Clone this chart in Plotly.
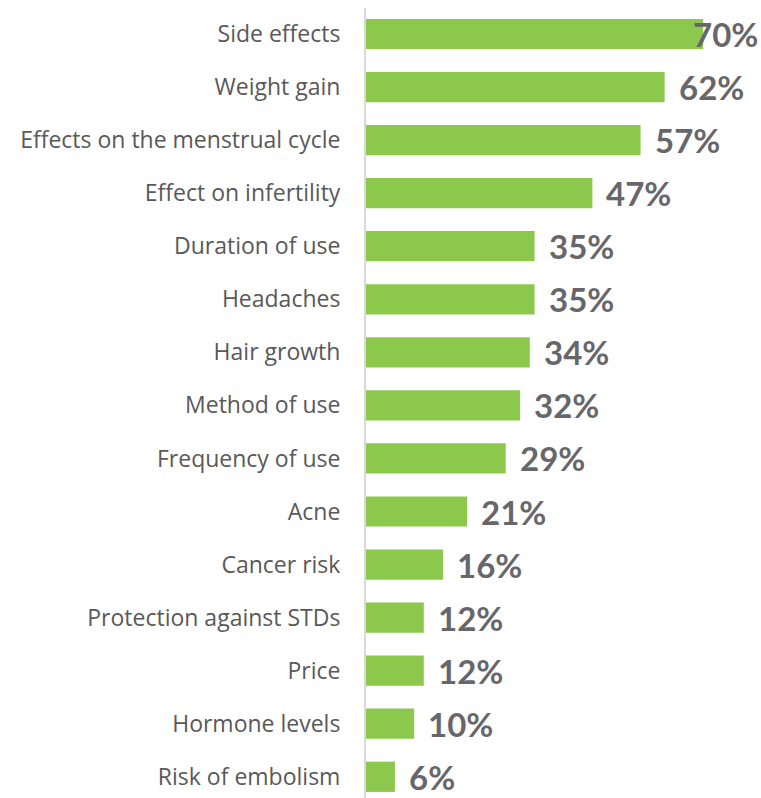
import plotly.graph_objects as go

# Concerns about contraception, share of respondents (%)
categories = [
    "Side effects",
    "Weight gain",
    "Effects on the menstrual cycle",
    "Effect on infertility",
    "Duration of use",
    "Headaches",
    "Hair growth",
    "Method of use",
    "Frequency of use",
    "Acne",
    "Cancer risk",
    "Protection against STDs",
    "Price",
    "Hormone levels",
    "Risk of embolism",
]
values = [70, 62, 57, 47, 35, 35, 34, 32, 29, 21, 16, 12, 12, 10, 6]

BAR_COLOR = "#8CC84B"
LABEL_COLOR = "#67676B"
TICK_COLOR = "#595959"
X_MAX = 82

fig = go.Figure(
    go.Bar(
        x=values,
        y=categories,
        orientation="h",
        marker=dict(color=BAR_COLOR, line=dict(width=0)),
        width=0.57,
        hoverinfo="skip",
    )
)

# Value labels just past the bar ends; the longest one is pulled back
# so it stays within the figure's right edge.
annotations = []
for cat, v in zip(categories, values):
    label = f"{v}%"
    ann = dict(
        x=v, y=cat, xref="x", yref="y", text=f"<b>{label}</b>",
        showarrow=False, xanchor="left", xshift=12,
        font=dict(family="Lato", size=33, color=LABEL_COLOR),
    )
    if v == max(values):
        ann.update(xshift=-12)
    annotations.append(ann)

fig.update_layout(
    width=761,
    height=798,
    margin=dict(l=366, r=0, t=8, b=0),
    paper_bgcolor="white",
    plot_bgcolor="white",
    showlegend=False,
    annotations=annotations,
    xaxis=dict(
        range=[0, X_MAX],
        visible=False,
        fixedrange=True,
    ),
    yaxis=dict(
        type="category",
        categoryorder="array",
        categoryarray=categories,
        range=[14.4, -0.49],
        showline=True,
        linecolor="#D9D9D9",
        linewidth=2,
        showgrid=False,
        ticks="outside",
        ticklen=19,
        tickcolor="rgba(0,0,0,0)",
        tickfont=dict(family="Open Sans", size=23, color=TICK_COLOR),
        fixedrange=True,
    ),
)

fig.write_html("out.html")
